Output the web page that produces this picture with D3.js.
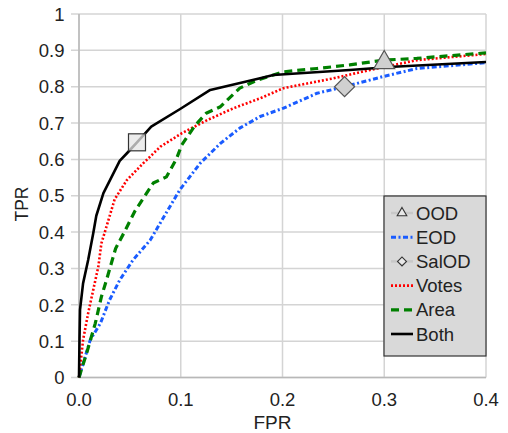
<!DOCTYPE html>
<html><head><meta charset="utf-8">
<script src="https://cdn.jsdelivr.net/npm/d3@7"></script>
<style>body{margin:0;background:#fff;}text{font-family:"Liberation Sans",Arial,sans-serif;fill:#222;}</style>
</head><body><svg id="c" width="508" height="433"></svg>
<script>
const xTicks = [0, 0.1, 0.2, 0.3, 0.4];
const xTickLabels = ["0.0", "0.1", "0.2", "0.3", "0.4"];
const yTicks = [0, 0.1, 0.2, 0.3, 0.4, 0.5, 0.6, 0.7, 0.8, 0.9, 1];
const yTickLabels = ["0", "0.1", "0.2", "0.3", "0.4", "0.5", "0.6", "0.7", "0.8", "0.9", "1"];

const eodFPR = [0, 0.011, 0.021, 0.030, 0.040, 0.053, 0.070, 0.083, 0.099, 0.119, 0.139, 0.158, 0.178, 0.201, 0.234, 0.261, 0.299, 0.332, 0.4];
const eodTPR = [0, 0.103, 0.149, 0.213, 0.268, 0.323, 0.378, 0.440, 0.516, 0.589, 0.644, 0.686, 0.718, 0.741, 0.782, 0.800, 0.828, 0.850, 0.866];

const votesFPR = [0, 0.004, 0.009, 0.014, 0.019, 0.022, 0.027, 0.035, 0.047, 0.063, 0.080, 0.101, 0.126, 0.152, 0.178, 0.201, 0.250, 0.286, 0.332, 0.4];
const votesTPR = [0, 0.103, 0.177, 0.241, 0.305, 0.369, 0.415, 0.490, 0.543, 0.589, 0.635, 0.672, 0.708, 0.741, 0.768, 0.796, 0.823, 0.846, 0.873, 0.890];

const areaFPR = [0, 0.0075, 0.016, 0.022, 0.027, 0.036, 0.044, 0.055, 0.073, 0.086, 0.096, 0.101, 0.114, 0.125, 0.139, 0.158, 0.175, 0.201, 0.234, 0.266, 0.299, 0.332, 0.4];
const areaTPR = [0, 0.067, 0.149, 0.222, 0.268, 0.355, 0.397, 0.458, 0.535, 0.552, 0.603, 0.640, 0.693, 0.727, 0.745, 0.796, 0.818, 0.841, 0.850, 0.860, 0.873, 0.878, 0.893];

const bothFPR = [0, 0.0005, 0.001, 0.004, 0.009, 0.014, 0.017, 0.024, 0.040, 0.0485, 0.057, 0.071, 0.099, 0.129, 0.178, 0.191, 0.266, 0.309, 0.4];
const bothTPR = [0, 0.108, 0.186, 0.259, 0.323, 0.397, 0.445, 0.507, 0.596, 0.621, 0.647, 0.690, 0.738, 0.791, 0.823, 0.832, 0.846, 0.855, 0.868];

const oodPoint = [0.3, 0.869];
const salodPoint = [0.261, 0.800];
const squarePoint = [0.057, 0.647];

const legendLabels = ["OOD", "EOD", "SalOD", "Votes", "Area", "Both"];

const svg = d3.select("#c");
const x = d3.scaleLinear().domain([0, 0.4]).range([79, 486]);
const y = d3.scaleLinear().domain([0, 1]).range([377.5, 14]);

// grid
const g = svg.append("g");
g.selectAll(".gx").data(xTicks).enter().append("line")
  .attr("x1", d => x(d)).attr("x2", d => x(d)).attr("y1", y(0)).attr("y2", y(1))
  .attr("stroke", "#d4d4d4").attr("stroke-width", 1.5);
g.selectAll(".gy").data(yTicks).enter().append("line")
  .attr("x1", 71).attr("x2", x(0.4)).attr("y1", d => y(d)).attr("y2", d => y(d))
  .attr("stroke", "#d4d4d4").attr("stroke-width", 1.5);
// axes lines
svg.append("line").attr("x1", x(0)).attr("x2", x(0.4)).attr("y1", y(0)).attr("y2", y(0)).attr("stroke", "#b8b8b8").attr("stroke-width", 1.5);
svg.append("line").attr("x1", x(0)).attr("x2", x(0)).attr("y1", y(0)).attr("y2", y(1)).attr("stroke", "#b8b8b8").attr("stroke-width", 1.5);

// tick labels
svg.selectAll(".xl").data(xTicks).enter().append("text")
  .attr("x", d => x(d)).attr("y", 405.5).attr("text-anchor", "middle").attr("font-size", 18.5)
  .text((d, i) => xTickLabels[i]);
svg.selectAll(".yl").data(yTicks).enter().append("text")
  .attr("x", 64.5).attr("y", d => y(d) + 6.7).attr("text-anchor", "end").attr("font-size", 18.5)
  .text((d, i) => yTickLabels[i]);
svg.append("text").attr("x", 272.5).attr("y", 428.5).attr("text-anchor", "middle").attr("font-size", 19).text("FPR");
svg.append("text").attr("transform", "translate(27.5,204) rotate(-90)").attr("text-anchor", "middle").attr("font-size", 17.5).text("TPR");

const line = d3.line().x(d => x(d[0])).y(d => y(d[1]));
const zip = (a, b) => a.map((v, i) => [v, b[i]]);

const styles = {
  EOD: {color: "#1a5cff", dash: "5,2.5,2,2.5", w: 3},
  Votes: {color: "#ff0000", dash: "2,2", w: 2.6},
  Area: {color: "#008000", dash: "8,5", w: 3.2},
  Both: {color: "#000000", dash: null, w: 2.6}
};
const series = [
  ["EOD", zip(eodFPR, eodTPR)],
  ["Votes", zip(votesFPR, votesTPR)],
  ["Area", zip(areaFPR, areaTPR)],
  ["Both", zip(bothFPR, bothTPR)]
];
series.forEach(([name, pts]) => {
  const s = styles[name];
  svg.append("path").datum(pts).attr("d", line).attr("fill", "none")
    .attr("stroke", s.color).attr("stroke-width", s.w)
    .attr("stroke-dasharray", s.dash).attr("stroke-linejoin", "round");
});

// markers
const markFill = "#d0d0d0", markStroke = "#555";
svg.append("path").attr("d", d3.symbol().type(d3.symbolTriangle).size(190)())
  .attr("transform", `translate(${x(oodPoint[0])},${y(oodPoint[1]) + 1})`)
  .attr("fill", markFill).attr("stroke", markStroke).attr("stroke-width", 1.2);
svg.append("path").attr("d", d3.symbol().type(d3.symbolSquare).size(200)())
  .attr("transform", `translate(${x(salodPoint[0])},${y(salodPoint[1])}) rotate(45)`)
  .attr("fill", markFill).attr("stroke", markStroke).attr("stroke-width", 1.2);
svg.append("rect").attr("x", x(squarePoint[0]) - 8.5).attr("y", y(squarePoint[1]) - 8.5)
  .attr("width", 17).attr("height", 17).attr("fill", "#e6e6e6").attr("fill-opacity", 0.75)
  .attr("stroke", "#333").attr("stroke-width", 1.2);

// legend
const lg = svg.append("g");
lg.append("rect").attr("x", 384).attr("y", 196).attr("width", 102).attr("height", 160)
  .attr("fill", "#d9d9d9").attr("stroke", "#333").attr("stroke-width", 1.2);
const ly = i => 213 + i * 24.2;
legendLabels.forEach((name, i) => {
  const yy = ly(i);
  if (name === "OOD" || name === "SalOD") {
    lg.append("line").attr("x1", 391).attr("x2", 413).attr("y1", yy).attr("y2", yy)
      .attr("stroke", "#c8c8c8").attr("stroke-width", 2.5);
    const sym = name === "OOD"
      ? d3.symbol().type(d3.symbolTriangle).size(40)()
      : d3.symbol().type(d3.symbolSquare).size(40)();
    lg.append("path").attr("d", sym)
      .attr("transform", name === "OOD" ? `translate(402,${yy})` : `translate(402,${yy}) rotate(45)`)
      .attr("fill", "#e8e8e8").attr("stroke", "#333").attr("stroke-width", 1.1);
  } else {
    const s = styles[name];
    lg.append("line").attr("x1", 391).attr("x2", 413).attr("y1", yy).attr("y2", yy)
      .attr("stroke", s.color).attr("stroke-width", s.w).attr("stroke-dasharray", s.dash);
  }
  lg.append("text").attr("x", 416).attr("y", yy + 6.5).attr("font-size", 18.5).text(name);
});
</script></body></html>
